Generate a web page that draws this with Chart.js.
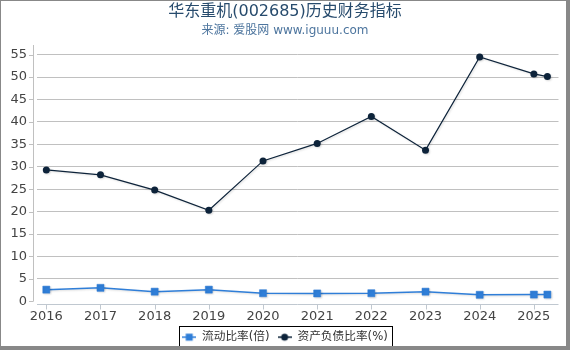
<!DOCTYPE html>
<html><head><meta charset="utf-8">
<script src="https://cdn.jsdelivr.net/npm/chart.js@4.4.1/dist/chart.umd.min.js"></script>
<style>html,body{margin:0;padding:0;background:#fff}#wrap{width:570px;height:350px;position:relative}canvas{display:block}</style>
</head><body><div id="wrap"><canvas id="c" width="570" height="350"></canvas></div>
<script>
// ---- data ----
const tickYears = [2016, 2017, 2018, 2019, 2020, 2021, 2022, 2023, 2024, 2025];
const periods = [2016, 2017, 2018, 2019, 2020, 2021, 2022, 2023, 2024, 2025, 2025.25];
const currentRatio = [2.6, 3.0, 2.15, 2.6, 1.8, 1.75, 1.8, 2.15, 1.45, 1.5, 1.5];
const debtRatio = [29.3, 28.2, 24.8, 20.3, 31.3, 35.2, 41.2, 33.7, 54.5, 50.7, 50.1];
const yTicks = [0, 5, 10, 15, 20, 25, 30, 35, 40, 45, 50, 55];
const seriesNames = ['流动比率(倍)', '资产负债比率(%)'];
const titleText = '华东重机(002685)历史财务指标';
const subtitleText = '来源: 爱股网 www.iguuu.com';

const FONT = '"DejaVu Sans", "Noto Sans CJK SC", sans-serif';
const BLUE = '#2f7ed8', NAVY = '#0d233a';

function legendIcon(kind, color) {
  const c = document.createElement('canvas');
  c.width = 14; c.height = 10;
  const g = c.getContext('2d');
  g.strokeStyle = color; g.lineWidth = 1.5;
  g.beginPath(); g.moveTo(0, 5); g.lineTo(14, 5); g.stroke();
  g.fillStyle = color;
  if (kind === 'rect') { g.fillRect(3.5, 1.5, 7, 7); }
  else { g.beginPath(); g.arc(7, 5, 3.5, 0, Math.PI * 2); g.fill(); }
  return c;
}
const icons = [legendIcon('rect', BLUE), legendIcon('circle', NAVY)];

const axesPlugin = {
  id: 'axesPlugin',
  beforeDatasetsDraw(chart) {
    const {ctx, chartArea: a, scales: {x, y}} = chart;
    ctx.save();
    ctx.lineWidth = 1;
    ctx.strokeStyle = '#c0c0c0';
    ctx.beginPath();
    ctx.moveTo(33.5, a.top); ctx.lineTo(33.5, a.bottom);
    yTicks.forEach(v => { const py = Math.round(y.getPixelForValue(v)) + 0.5; ctx.moveTo(29, py); ctx.lineTo(33.5, py); });
    ctx.stroke();
    ctx.strokeStyle = '#c0c8d0';
    ctx.beginPath();
    const ay = Math.round(a.bottom) + 3.5;
    ctx.moveTo(a.left, ay); ctx.lineTo(a.right, ay);
    tickYears.forEach(v => { const px = Math.round(x.getPixelForValue(v)) + 0.5; ctx.moveTo(px, ay); ctx.lineTo(px, ay + 5); });
    ctx.stroke();
    ctx.restore();
  },
  beforeDatasetDraw(chart) {
    const ctx = chart.ctx;
    ctx.save();
    ctx.shadowColor = 'rgba(0,0,0,0.15)';
    ctx.shadowOffsetX = 1; ctx.shadowOffsetY = 1; ctx.shadowBlur = 2;
  },
  afterDatasetDraw(chart) { chart.ctx.restore(); },
  afterDraw(chart) {
    const ctx = chart.ctx;
    const hb = chart.legend.legendHitBoxes;
    ctx.save();
    if (hb && hb.length) {
      const minX = Math.min(...hb.map(h => h.left));
      const maxX = Math.max(...hb.map(h => h.left + h.width));
      const cy = hb[0].top + hb[0].height / 2;
      ctx.strokeStyle = '#000'; ctx.lineWidth = 1;
      ctx.strokeRect(Math.round(minX - 3) + 0.5, Math.round(cy - 11) + 0.5, Math.round(maxX - minX + 7), 22);
    }
    ctx.fillStyle = '#888';
    ctx.fillRect(0, 0, 570, 1);
    ctx.fillRect(0, 0, 1, 350);
    ctx.fillRect(566, 0, 4, 350);
    ctx.fillRect(0, 346, 570, 4);
    ctx.restore();
  }
};

new Chart(document.getElementById('c'), {
  type: 'line',
  data: {
    datasets: [
      {
        label: seriesNames[0],
        data: periods.map((p, i) => ({x: p, y: currentRatio[i]})),
        borderColor: BLUE, backgroundColor: BLUE, borderWidth: 1.5,
        pointStyle: 'rect', pointRadius: 5, pointBorderWidth: 1,
        pointBorderColor: 'rgba(47,126,216,0.5)', pointBackgroundColor: BLUE,
        tension: 0, clip: false
      },
      {
        label: seriesNames[1],
        data: periods.map((p, i) => ({x: p, y: debtRatio[i]})),
        borderColor: NAVY, backgroundColor: NAVY, borderWidth: 1.2,
        pointStyle: 'circle', pointRadius: 3.5, pointBorderWidth: 0,
        pointBackgroundColor: NAVY,
        tension: 0, clip: false
      }
    ]
  },
  options: {
    responsive: false, animation: false, devicePixelRatio: 1,
    layout: {padding: {left: 0, right: 0, top: 0, bottom: -3}},
    scales: {
      x: {
        type: 'linear', min: 2015.828, max: 2025.455,
        afterBuildTicks: s => { s.ticks = tickYears.map(v => ({value: v})); },
        afterFit: s => { s.height = 22; },
        grid: {display: false, drawTicks: false},
        border: {display: false},
        ticks: {autoSkip: false, maxRotation: 0, padding: 8, color: '#444',
          font: {family: FONT, size: 13}, callback: v => String(v)}
      },
      y: {
        type: 'linear', min: 0, max: 57.15,
        afterBuildTicks: s => { s.ticks = yTicks.map(v => ({value: v})); },
        afterFit: s => { s.width = 37; },
        grid: {drawTicks: false, color: ctx => (ctx.tick && ctx.tick.value === 0) ? 'rgba(0,0,0,0)' : '#c0c0c0', lineWidth: 1},
        border: {display: false},
        ticks: {padding: 10, color: '#444', font: {family: FONT, size: 13}, callback: v => String(v)}
      },
      yRight: {
        type: 'linear', position: 'right', display: true, min: 0, max: 1,
        afterFit: s => { s.width = 11.5; },
        grid: {display: false, drawTicks: false},
        border: {display: false},
        ticks: {display: false}
      }
    },
    plugins: {
      title: {display: true, text: titleText, color: '#274b6d',
        font: {family: FONT, size: 16, weight: 'normal'}, padding: {top: 2, bottom: 0}},
      subtitle: {display: true, text: subtitleText, color: '#4d759e',
        font: {family: FONT, size: 12, weight: 'normal'}, padding: {top: 2, bottom: 7.4}},
      legend: {
        display: true, position: 'bottom',
        labels: {
          usePointStyle: true, pointStyleWidth: 14, padding: 8,
          color: '#333', font: {family: FONT, size: 11.7},
          generateLabels: chart => chart.data.datasets.map((d, i) => ({
            text: d.label, pointStyle: icons[i], fillStyle: d.borderColor,
            strokeStyle: d.borderColor, lineWidth: 0, hidden: false, datasetIndex: i, fontColor: '#333'
          }))
        }
      },
      tooltip: {enabled: false}
    }
  },
  plugins: [axesPlugin]
});
</script>
</body></html>
